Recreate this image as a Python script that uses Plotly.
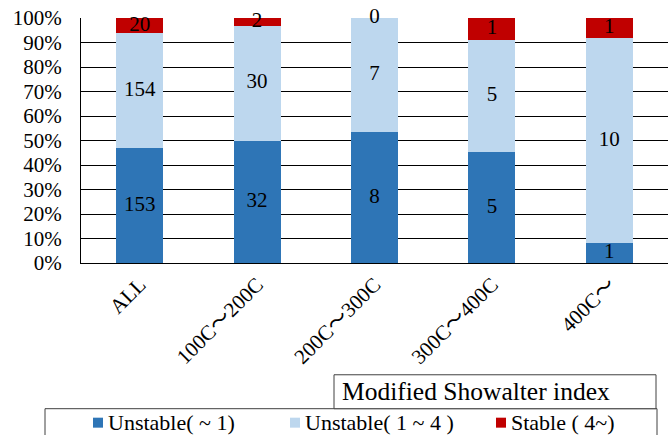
import numpy as np
import plotly.graph_objects as go

# Counts per class and category
categories = ["ALL", "100C～200C", "200C～300C", "300C～400C", "400C～"]
unstable_low = [153, 32, 8, 5, 1]      # Unstable( ~ 1)
unstable_mid = [154, 30, 7, 5, 10]     # Unstable( 1 ~ 4 )
stable = [20, 2, 0, 1, 1]              # Stable ( 4~)
series_names = ["Unstable( ~ 1)", "Unstable( 1 ~ 4 )", "Stable ( 4~)"]
series_colors = ["#2E75B6", "#BDD7EE", "#C00000"]
legend_title = "Modified Showalter index"

W, H = 670, 435
ML, MR, MT, MB = 81, 2, 17.5, 172
PW, PH = W - ML - MR, H - MT - MB
FONT = "'Liberation Serif', 'Times New Roman', 'Noto Sans CJK JP', serif"


def px_x(px):
    return (px - ML) / PW


def px_y(py):
    return (H - MB - py) / PH


counts = np.array([unstable_low, unstable_mid, stable], dtype=float)
totals = counts.sum(axis=0)
pct = counts / totals * 100
tops = np.cumsum(pct, axis=0)
mids = tops - pct / 2

fig = go.Figure()
for i, name in enumerate(series_names):
    fig.add_trace(go.Bar(
        x=categories, y=pct[i], name=name,
        marker=dict(color=series_colors[i], line=dict(width=0)),
        showlegend=False,
    ))

# value labels centred on each segment
for i in range(len(series_names)):
    fig.add_trace(go.Scatter(
        x=categories, y=mids[i], mode="text",
        text=[str(int(v)) for v in counts[i]],
        textfont=dict(family=FONT, size=21, color="black"),
        cliponaxis=False, showlegend=False, hoverinfo="skip",
    ))

shapes = [
    # legend frame
    dict(type="rect", xref="paper", yref="paper",
         x0=px_x(45), x1=px_x(657), y0=px_y(460), y1=px_y(409),
         line=dict(color="#404040", width=1), fillcolor="white"),
    # legend title frame
    dict(type="rect", xref="paper", yref="paper",
         x0=px_x(334), x1=px_x(656), y0=px_y(409), y1=px_y(375),
         line=dict(color="#404040", width=1), fillcolor="white"),
]
annotations = [
    dict(text=legend_title, xref="paper", yref="paper",
         x=px_x(340), y=px_y(392), xanchor="left", yanchor="middle",
         showarrow=False, font=dict(family=FONT, size=25.5, color="black")),
]
marker_left = [93, 290, 496]
for i, name in enumerate(series_names):
    x0 = marker_left[i]
    shapes.append(dict(type="rect", xref="paper", yref="paper",
                       x0=px_x(x0), x1=px_x(x0 + 10),
                       y0=px_y(428), y1=px_y(418),
                       line=dict(width=0), fillcolor=series_colors[i]))
    annotations.append(dict(text=name, xref="paper", yref="paper",
                            x=px_x(x0 + 13), y=px_y(423),
                            xanchor="left", yanchor="middle", showarrow=False,
                            font=dict(family=FONT, size=22, color="black")))

fig.update_layout(
    width=W, height=H,
    margin=dict(l=ML, r=MR, t=MT, b=MB),
    barmode="stack", bargap=0.6,
    paper_bgcolor="white", plot_bgcolor="white",
    font=dict(family=FONT, size=21, color="black"),
    shapes=shapes, annotations=annotations,
    xaxis=dict(
        type="category", tickangle=-45, showgrid=False,
        showline=True, linecolor="black", linewidth=1,
        tickfont=dict(family=FONT, size=21, color="black"),
        ticks="", fixedrange=True,
    ),
    yaxis=dict(
        range=[0, 100], dtick=10, ticksuffix="%",
        showgrid=True, gridcolor="black", gridwidth=1,
        showline=True, linecolor="black", linewidth=1,
        zeroline=False, ticks="", ticklabelstandoff=14,
        tickfont=dict(family=FONT, size=21, color="black"),
        fixedrange=True,
    ),
)

fig.write_html("out.html")
